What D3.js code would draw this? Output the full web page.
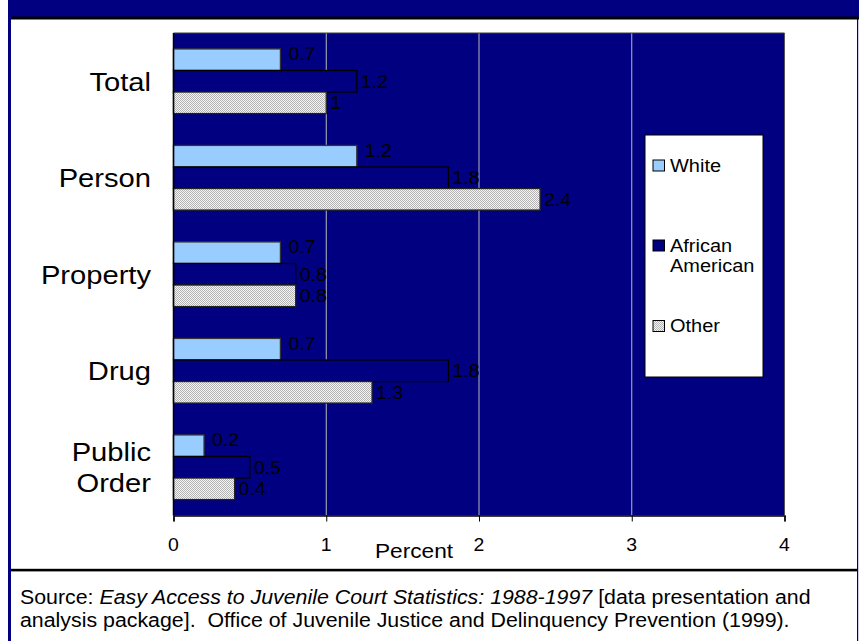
<!DOCTYPE html>
<html><head><meta charset="utf-8">
<script src="https://cdn.jsdelivr.net/npm/d3@7"></script>
<style>
html,body{margin:0;padding:0;background:#fff;}
svg{display:block;font-family:"Liberation Sans",Arial,sans-serif;}
</style></head>
<body>
<svg id="chart" width="859" height="641"></svg>
<script>
const categories = [["Total"], ["Person"], ["Property"], ["Drug"], ["Public", "Order"]];
const seriesNames = ["White", "African American", "Other"];
const whiteValues = [0.7, 1.2, 0.7, 0.7, 0.2];
const africanAmericanValues = [1.2, 1.8, 0.8, 1.8, 0.5];
const otherValues = [1, 2.4, 0.8, 1.3, 0.4];
const xTicks = [0, 1, 2, 3, 4];
const xTitle = "Percent";

const svg = d3.select("#chart");
const W = 859, H = 641;
const navy = "#000080";
const SX = 1.08; // horizontal stretch of the original typeface

// frame
svg.append("rect").attr("x", 0).attr("y", 0).attr("width", W).attr("height", H).attr("fill", "#fff");
svg.append("rect").attr("x", 8).attr("y", 0).attr("width", W - 8).attr("height", 18).attr("fill", navy);
svg.append("rect").attr("x", 8).attr("y", 0).attr("width", 3).attr("height", H).attr("fill", navy);
svg.append("rect").attr("x", 857).attr("y", 18).attr("width", 1.2).attr("height", H).attr("fill", navy);
svg.append("rect").attr("x", 11).attr("y", 16.5).attr("width", W - 11).attr("height", 3).attr("fill", "#000");
svg.append("rect").attr("x", 11).attr("y", 568.8).attr("width", 846).attr("height", 2.6).attr("fill", "#000");

// pattern for "Other"
const defs = svg.append("defs");
const pat = defs.append("pattern").attr("id", "dots").attr("patternUnits", "userSpaceOnUse")
  .attr("width", 2).attr("height", 2);
pat.append("rect").attr("width", 2).attr("height", 2).attr("fill", "#f4f4f4");
pat.append("rect").attr("x", 0).attr("y", 0).attr("width", 1).attr("height", 1).attr("fill", "#b4b4b4");
pat.append("rect").attr("x", 1).attr("y", 1).attr("width", 1).attr("height", 1).attr("fill", "#b4b4b4");

const plot = {left: 173.5, right: 784.5, top: 33, bottom: 515.5};
const x = d3.scaleLinear().domain([0, 4]).range([plot.left, plot.right]);
const y0 = d3.scaleBand().domain(d3.range(categories.length)).range([plot.top, plot.bottom])
  .paddingInner(0.33).paddingOuter(0.165);
const y1 = d3.scaleBand().domain(d3.range(seriesNames.length)).range([0, y0.bandwidth()]);

svg.append("rect").attr("x", plot.left).attr("y", plot.top)
  .attr("width", plot.right - plot.left).attr("height", plot.bottom - plot.top)
  .attr("fill", navy);

// gridlines
svg.append("g").selectAll("line").data(xTicks.filter(d => d > 0)).join("line")
  .attr("x1", d => x(d)).attr("x2", d => x(d))
  .attr("y1", plot.top).attr("y2", plot.bottom)
  .attr("stroke", "#b8b8b8").attr("stroke-width", 1);
svg.append("line").attr("x1", plot.left).attr("x2", plot.right).attr("y1", plot.top).attr("y2", plot.top)
  .attr("stroke", "#404040").attr("stroke-width", 1.2);

function sText(parent, px, py, size, sx) {
  return parent.append("text")
    .attr("transform", `translate(${px},${py}) scale(${sx || SX},1)`)
    .attr("font-size", size).attr("fill", "#000");
}

const series = [
  {name: seriesNames[0], values: whiteValues, fill: "#99CCFF", stroke: "#333", dy: -6, dx: 8},
  {name: seriesNames[1], values: africanAmericanValues, fill: navy, stroke: "#000", dy: 0, dx: 4},
  {name: seriesNames[2], values: otherValues, fill: "url(#dots)", stroke: "#222", dy: 0, dx: 4}
];

series.forEach((s, si) => {
  const g = svg.append("g");
  g.selectAll("rect").data(s.values).join("rect")
    .attr("x", x(0))
    .attr("y", (d, i) => y0(i) + y1(si))
    .attr("width", d => x(d) - x(0))
    .attr("height", y1.bandwidth())
    .attr("fill", s.fill).attr("stroke", s.stroke).attr("stroke-width", 1.3);
  s.values.forEach((d, i) => {
    sText(g, x(d) + s.dx, y0(i) + y1(si) + y1.bandwidth() / 2 + s.dy + 6.5, 18)
      .text(d3.format("~g")(d));
  });
});

// axes
const xAxis = svg.append("g").attr("transform", `translate(0,${plot.bottom})`)
  .call(d3.axisBottom(x).tickValues(xTicks).tickFormat(d3.format("d")).tickSize(6).tickPadding(18));
xAxis.select(".domain").attr("stroke", "#000").attr("stroke-width", 1.5);
xAxis.selectAll(".tick line").attr("stroke", "#000");
xAxis.selectAll(".tick text").remove();
xTicks.forEach(t => {
  sText(svg, x(t), 551, 18).attr("text-anchor", "middle").text(t);
});
svg.append("line").attr("x1", plot.left).attr("x2", plot.left).attr("y1", plot.top).attr("y2", plot.bottom)
  .attr("stroke", "#000").attr("stroke-width", 1.5);
svg.append("line").attr("x1", plot.right).attr("x2", plot.right).attr("y1", plot.top).attr("y2", plot.bottom)
  .attr("stroke", "#555").attr("stroke-width", 1);

sText(svg, 375, 558, 21).text(xTitle);

// category labels
categories.forEach((lines, i) => {
  const cy = y0(i) + y0.bandwidth() / 2;
  const lh = 31.5;
  const t = sText(svg, 151, 0, 26.5, 1.1).attr("text-anchor", "end");
  lines.forEach((ln, j) => {
    t.append("tspan").attr("x", 0)
      .attr("y", cy + 9.5 + (j - (lines.length - 1) / 2) * lh)
      .text(ln);
  });
});

// legend
const leg = svg.append("g");
leg.append("rect").attr("x", 645).attr("y", 135).attr("width", 118).attr("height", 242)
  .attr("fill", "#fff").attr("stroke", "#000").attr("stroke-width", 1);
const legY = [171.5, 251.5, 332];
series.forEach((s, si) => {
  leg.append("rect").attr("x", 653).attr("y", legY[si] - 11.5).attr("width", 11.5).attr("height", 11)
    .attr("fill", s.fill).attr("stroke", "#000").attr("stroke-width", 1);
  const words = s.name === "African American" ? ["African", "American"] : [s.name];
  const t = sText(leg, 670, legY[si], 18.5);
  words.forEach((w, j) => t.append("tspan").attr("x", 0).attr("y", j * 21).text(w));
});

// footnote
const foot = sText(svg, 20, 0, 19.5, 1.095).attr("style", "white-space:pre");
const l1 = foot.append("tspan").attr("x", 0).attr("y", 604);
l1.append("tspan").text("Source: ");
l1.append("tspan").attr("font-style", "italic").text("Easy Access to Juvenile Court Statistics: 1988-1997");
l1.append("tspan").text(" [data presentation and");
foot.append("tspan").attr("x", 0).attr("y", 627)
  .text("analysis package].  Office of Juvenile Justice and Delinquency Prevention (1999).");
</script>
</body></html>
